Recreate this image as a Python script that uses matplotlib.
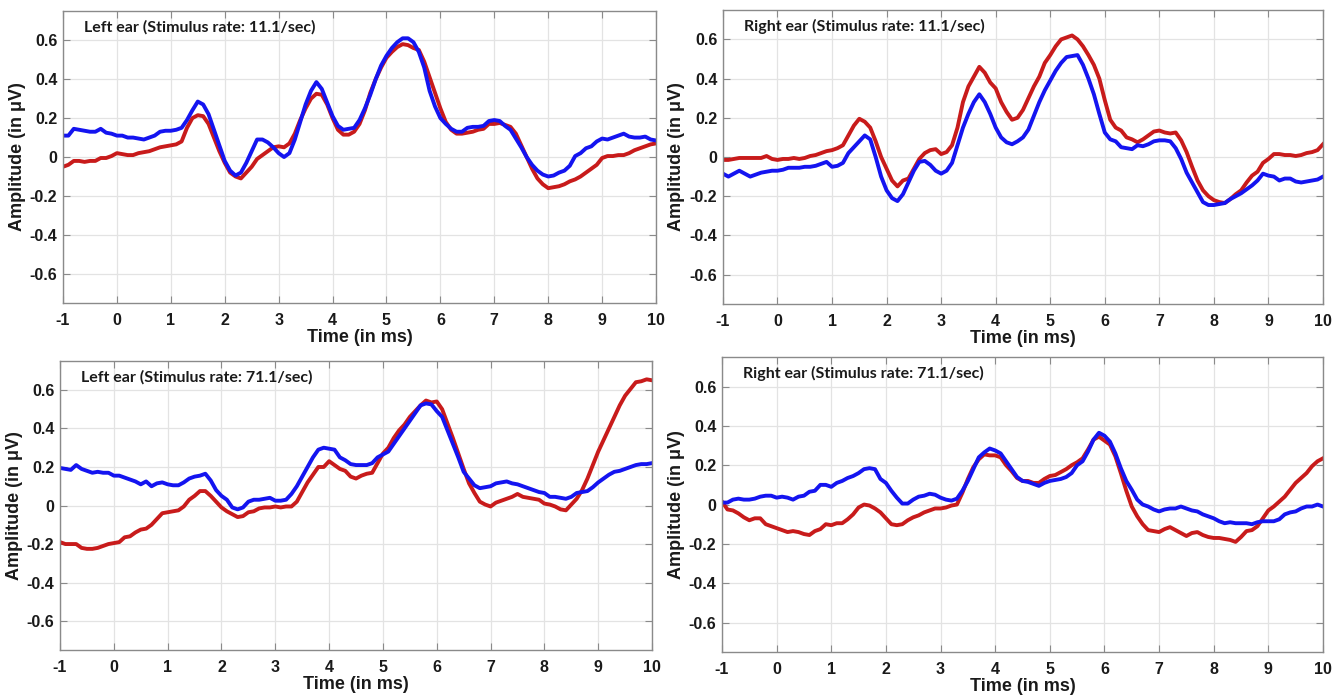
import numpy as np
import matplotlib
matplotlib.use("Agg")
import matplotlib.pyplot as plt
from matplotlib.ticker import FuncFormatter

# time axis in ms, one sample every 0.1 ms
time_ms = np.round(np.arange(-1.0, 10.05, 0.1), 1)

left_11_red = [
    -0.05, -0.04, -0.02, -0.02, -0.025, -0.02, -0.02, -0.005, -0.005, 0.005,
    0.02, 0.015, 0.01, 0.01, 0.02, 0.025, 0.03, 0.04, 0.05, 0.055,
    0.06, 0.065, 0.08, 0.15, 0.20, 0.215, 0.21, 0.17, 0.10, 0.03,
    -0.03, -0.08, -0.10, -0.11, -0.08, -0.05, -0.01, 0.01, 0.03, 0.05,
    0.055, 0.05, 0.07, 0.12, 0.19, 0.25, 0.30, 0.325, 0.32, 0.27,
    0.20, 0.14, 0.115, 0.115, 0.13, 0.17, 0.24, 0.33, 0.40, 0.46,
    0.51, 0.54, 0.565, 0.58, 0.575, 0.56, 0.55, 0.49, 0.41, 0.33,
    0.25, 0.18, 0.14, 0.12, 0.12, 0.125, 0.13, 0.14, 0.145, 0.17,
    0.17, 0.175, 0.165, 0.155, 0.12, 0.06, 0.0, -0.06, -0.11, -0.14,
    -0.16, -0.155, -0.15, -0.14, -0.125, -0.115, -0.10, -0.08, -0.06, -0.04,
    -0.005, 0.005, 0.005, 0.01, 0.01, 0.02, 0.035, 0.045, 0.055, 0.065,
    0.07,
]
left_11_blue = [
    0.11, 0.11, 0.145, 0.14, 0.135, 0.13, 0.13, 0.145, 0.125, 0.12,
    0.11, 0.11, 0.10, 0.10, 0.095, 0.09, 0.10, 0.11, 0.13, 0.135,
    0.135, 0.14, 0.15, 0.19, 0.24, 0.285, 0.27, 0.22, 0.14, 0.06,
    -0.02, -0.07, -0.095, -0.08, -0.03, 0.03, 0.09, 0.09, 0.075, 0.05,
    0.02, 0.0, 0.02, 0.09, 0.18, 0.27, 0.34, 0.385, 0.35, 0.28,
    0.21, 0.16, 0.14, 0.145, 0.15, 0.19, 0.25, 0.32, 0.40, 0.47,
    0.52, 0.56, 0.59, 0.61, 0.61, 0.59, 0.54, 0.46, 0.34, 0.26,
    0.20, 0.17, 0.145, 0.13, 0.13, 0.15, 0.155, 0.155, 0.16, 0.185,
    0.19, 0.185, 0.16, 0.14, 0.095, 0.05, 0.0, -0.04, -0.07, -0.09,
    -0.10, -0.095, -0.08, -0.07, -0.045, 0.005, 0.02, 0.045, 0.055, 0.08,
    0.095, 0.09, 0.10, 0.11, 0.12, 0.105, 0.10, 0.10, 0.105, 0.09,
    0.085,
]

right_11_red = [
    -0.015, -0.015, -0.01, -0.005, -0.005, -0.005, -0.005, -0.005, 0.005, -0.01,
    -0.015, -0.01, -0.01, -0.005, -0.01, -0.005, 0.005, 0.01, 0.02, 0.03,
    0.035, 0.045, 0.06, 0.11, 0.16, 0.195, 0.18, 0.15, 0.08, 0.0,
    -0.06, -0.12, -0.15, -0.12, -0.11, -0.06, -0.01, 0.02, 0.035, 0.04,
    0.015, 0.025, 0.06, 0.15, 0.28, 0.36, 0.41, 0.46, 0.43, 0.38,
    0.35, 0.28, 0.23, 0.19, 0.20, 0.24, 0.30, 0.36, 0.41, 0.48,
    0.52, 0.565, 0.60, 0.61, 0.62, 0.60, 0.565, 0.52, 0.47, 0.40,
    0.29, 0.19, 0.15, 0.135, 0.10, 0.09, 0.075, 0.09, 0.11, 0.13,
    0.135, 0.125, 0.12, 0.125, 0.085, 0.025, -0.05, -0.12, -0.17, -0.20,
    -0.22, -0.23, -0.235, -0.215, -0.19, -0.17, -0.13, -0.095, -0.075, -0.03,
    -0.01, 0.015, 0.015, 0.01, 0.01, 0.005, 0.01, 0.02, 0.025, 0.035,
    0.065,
]
right_11_blue = [
    -0.085, -0.10, -0.085, -0.07, -0.085, -0.10, -0.09, -0.08, -0.075, -0.07,
    -0.07, -0.065, -0.055, -0.055, -0.055, -0.05, -0.05, -0.045, -0.035, -0.025,
    -0.05, -0.045, -0.03, 0.02, 0.05, 0.08, 0.11, 0.09, 0.0, -0.10,
    -0.17, -0.21, -0.225, -0.19, -0.13, -0.07, -0.025, -0.02, -0.04, -0.07,
    -0.085, -0.07, -0.03, 0.06, 0.15, 0.22, 0.28, 0.32, 0.28, 0.22,
    0.15, 0.10, 0.075, 0.065, 0.08, 0.10, 0.14, 0.21, 0.28, 0.34,
    0.39, 0.44, 0.48, 0.51, 0.515, 0.52, 0.47, 0.40, 0.32, 0.22,
    0.125, 0.09, 0.08, 0.05, 0.045, 0.04, 0.06, 0.055, 0.065, 0.08,
    0.085, 0.085, 0.08, 0.045, -0.01, -0.08, -0.13, -0.18, -0.23, -0.245,
    -0.245, -0.24, -0.235, -0.215, -0.20, -0.185, -0.165, -0.145, -0.12, -0.085,
    -0.095, -0.10, -0.12, -0.11, -0.11, -0.125, -0.13, -0.125, -0.12, -0.115,
    -0.10,
]

left_71_red = [
    -0.19, -0.20, -0.20, -0.20, -0.22, -0.225, -0.225, -0.22, -0.21, -0.20,
    -0.195, -0.19, -0.165, -0.16, -0.14, -0.125, -0.12, -0.10, -0.07, -0.04,
    -0.035, -0.03, -0.025, -0.005, 0.03, 0.05, 0.075, 0.075, 0.05, 0.02,
    -0.01, -0.03, -0.045, -0.06, -0.055, -0.035, -0.03, -0.015, -0.01, -0.01,
    -0.005, -0.01, -0.005, -0.005, 0.02, 0.07, 0.12, 0.16, 0.20, 0.20,
    0.23, 0.21, 0.19, 0.18, 0.15, 0.14, 0.155, 0.165, 0.17, 0.22,
    0.27, 0.30, 0.35, 0.39, 0.42, 0.46, 0.49, 0.52, 0.545, 0.535,
    0.54, 0.50, 0.425, 0.35, 0.27, 0.19, 0.115, 0.065, 0.02, 0.005,
    -0.005, 0.015, 0.025, 0.035, 0.045, 0.06, 0.045, 0.04, 0.035, 0.03,
    0.01, 0.005, -0.005, -0.02, -0.025, 0.005, 0.035, 0.08, 0.14, 0.21,
    0.28, 0.34, 0.40, 0.46, 0.52, 0.57, 0.605, 0.64, 0.645, 0.655,
    0.65,
]
left_71_blue = [
    0.195, 0.19, 0.185, 0.21, 0.19, 0.18, 0.17, 0.175, 0.17, 0.17,
    0.155, 0.155, 0.145, 0.135, 0.125, 0.11, 0.125, 0.10, 0.115, 0.12,
    0.11, 0.105, 0.105, 0.12, 0.14, 0.15, 0.155, 0.165, 0.13, 0.08,
    0.05, 0.03, -0.01, -0.02, -0.01, 0.02, 0.03, 0.03, 0.035, 0.04,
    0.025, 0.025, 0.03, 0.06, 0.10, 0.15, 0.20, 0.25, 0.29, 0.30,
    0.295, 0.29, 0.25, 0.235, 0.215, 0.21, 0.21, 0.21, 0.22, 0.25,
    0.265, 0.28, 0.32, 0.36, 0.40, 0.44, 0.48, 0.52, 0.53, 0.525,
    0.49, 0.46, 0.39, 0.32, 0.25, 0.175, 0.14, 0.105, 0.09, 0.095,
    0.10, 0.115, 0.12, 0.125, 0.115, 0.11, 0.10, 0.09, 0.08, 0.07,
    0.065, 0.045, 0.045, 0.04, 0.035, 0.045, 0.065, 0.07, 0.075, 0.095,
    0.12, 0.14, 0.16, 0.175, 0.18, 0.19, 0.20, 0.21, 0.215, 0.215,
    0.22,
]

right_71_red = [
    0.015, -0.025, -0.03, -0.045, -0.065, -0.08, -0.07, -0.07, -0.10, -0.11,
    -0.12, -0.13, -0.14, -0.135, -0.14, -0.15, -0.155, -0.135, -0.125, -0.10,
    -0.105, -0.095, -0.095, -0.075, -0.05, -0.015, 0.0, -0.005, -0.02, -0.04,
    -0.07, -0.10, -0.105, -0.10, -0.08, -0.065, -0.055, -0.04, -0.03, -0.02,
    -0.02, -0.015, -0.005, 0.0, 0.06, 0.13, 0.19, 0.23, 0.255, 0.25,
    0.25, 0.24, 0.20, 0.17, 0.135, 0.12, 0.12, 0.11, 0.11, 0.13,
    0.145, 0.15, 0.165, 0.18, 0.20, 0.215, 0.235, 0.28, 0.33, 0.345,
    0.325, 0.305, 0.245, 0.16, 0.07, -0.01, -0.06, -0.10, -0.13, -0.135,
    -0.14, -0.125, -0.115, -0.13, -0.145, -0.16, -0.145, -0.14, -0.155, -0.165,
    -0.17, -0.17, -0.175, -0.18, -0.19, -0.165, -0.135, -0.13, -0.11, -0.07,
    -0.03, -0.01, 0.015, 0.04, 0.075, 0.11, 0.135, 0.16, 0.195, 0.22,
    0.235,
]
right_71_blue = [
    0.01, 0.01, 0.025, 0.03, 0.025, 0.025, 0.03, 0.04, 0.045, 0.045,
    0.035, 0.04, 0.035, 0.025, 0.04, 0.045, 0.065, 0.07, 0.10, 0.10,
    0.09, 0.11, 0.12, 0.135, 0.145, 0.16, 0.18, 0.185, 0.18, 0.13,
    0.11, 0.07, 0.035, 0.005, 0.005, 0.025, 0.04, 0.045, 0.055, 0.05,
    0.035, 0.025, 0.02, 0.03, 0.07, 0.12, 0.18, 0.24, 0.265, 0.285,
    0.275, 0.26, 0.22, 0.18, 0.14, 0.12, 0.115, 0.105, 0.095, 0.11,
    0.12, 0.125, 0.13, 0.14, 0.16, 0.20, 0.22, 0.27, 0.33, 0.365,
    0.35, 0.32, 0.26, 0.185, 0.12, 0.075, 0.025, 0.0, -0.01, -0.025,
    -0.035, -0.025, -0.02, -0.02, -0.01, -0.02, -0.03, -0.035, -0.05, -0.06,
    -0.07, -0.085, -0.095, -0.09, -0.095, -0.095, -0.095, -0.10, -0.09, -0.085,
    -0.085, -0.085, -0.075, -0.05, -0.04, -0.035, -0.02, -0.01, -0.01, 0.0,
    -0.01,
]

titles = [
    "Left ear (Stimulus rate: 11.1/sec)",
    "Right ear (Stimulus rate: 11.1/sec)",
    "Left ear (Stimulus rate: 71.1/sec)",
    "Right ear (Stimulus rate: 71.1/sec)",
]
red_series = [left_11_red, right_11_red, left_71_red, right_71_red]
blue_series = [left_11_blue, right_11_blue, left_71_blue, right_71_blue]

RED = "#c81b1b"
BLUE = "#1414f0"

# axes boxes in figure fraction
boxes = [
    [0.0469, 0.5665, 0.4416, 0.4177],
    [0.5383, 0.5651, 0.4468, 0.4206],
    [0.0447, 0.0701, 0.4408, 0.4134],
    [0.5376, 0.0672, 0.4475, 0.4220],
]


def y_fmt(v, pos):
    if abs(v) < 1e-9:
        return "0"
    return "%.1f" % v


def draw_panel(ax, red, blue, title):
    ax.plot(time_ms, red, color=RED, lw=2.8, solid_joinstyle="round")
    ax.plot(time_ms, blue, color=BLUE, lw=2.8, solid_joinstyle="round")
    ax.set_xlim(-1, 10)
    ax.set_ylim(-0.75, 0.75)
    ax.set_xticks(range(-1, 11))
    ax.set_yticks([-0.6, -0.4, -0.2, 0, 0.2, 0.4, 0.6])
    ax.yaxis.set_major_formatter(FuncFormatter(y_fmt))
    ax.xaxis.set_major_formatter(FuncFormatter(lambda v, p: "%d" % v))
    ax.grid(True, color="#e3e3e3", lw=0.9)
    ax.set_axisbelow(True)
    for s in ax.spines.values():
        s.set_color("#8a8a8a")
        s.set_linewidth(1.0)
    ax.tick_params(direction="in", top=True, right=True, length=5,
                   color="#8a8a8a", labelsize=11.5)
    ax.tick_params(axis="x", pad=7)
    ax.tick_params(axis="y", pad=4)
    for lab in ax.get_xticklabels() + ax.get_yticklabels():
        lab.set_fontweight("bold")
        lab.set_fontfamily("Liberation Sans")
        lab.set_color("#1a1a1a")
    ax.set_xlabel("Time (in ms)", fontsize=13, fontweight="bold",
                  family="Liberation Sans", labelpad=1, color="#1a1a1a")
    ax.set_ylabel("Amplitude (in μV)", fontsize=13, fontweight="bold",
                  family="Liberation Sans", labelpad=3, color="#1a1a1a")
    ax.text(0.035, 0.945, title, transform=ax.transAxes, fontsize=11.5,
            fontweight="bold", family="Lato", va="center", ha="left",
            color="#1a1a1a")


fig = plt.figure(figsize=(13.43, 6.99), dpi=100)
for box, red, blue, title in zip(boxes, red_series, blue_series, titles):
    ax = fig.add_axes(box)
    draw_panel(ax, red, blue, title)

fig.savefig("out.png", dpi=100, facecolor="white")
